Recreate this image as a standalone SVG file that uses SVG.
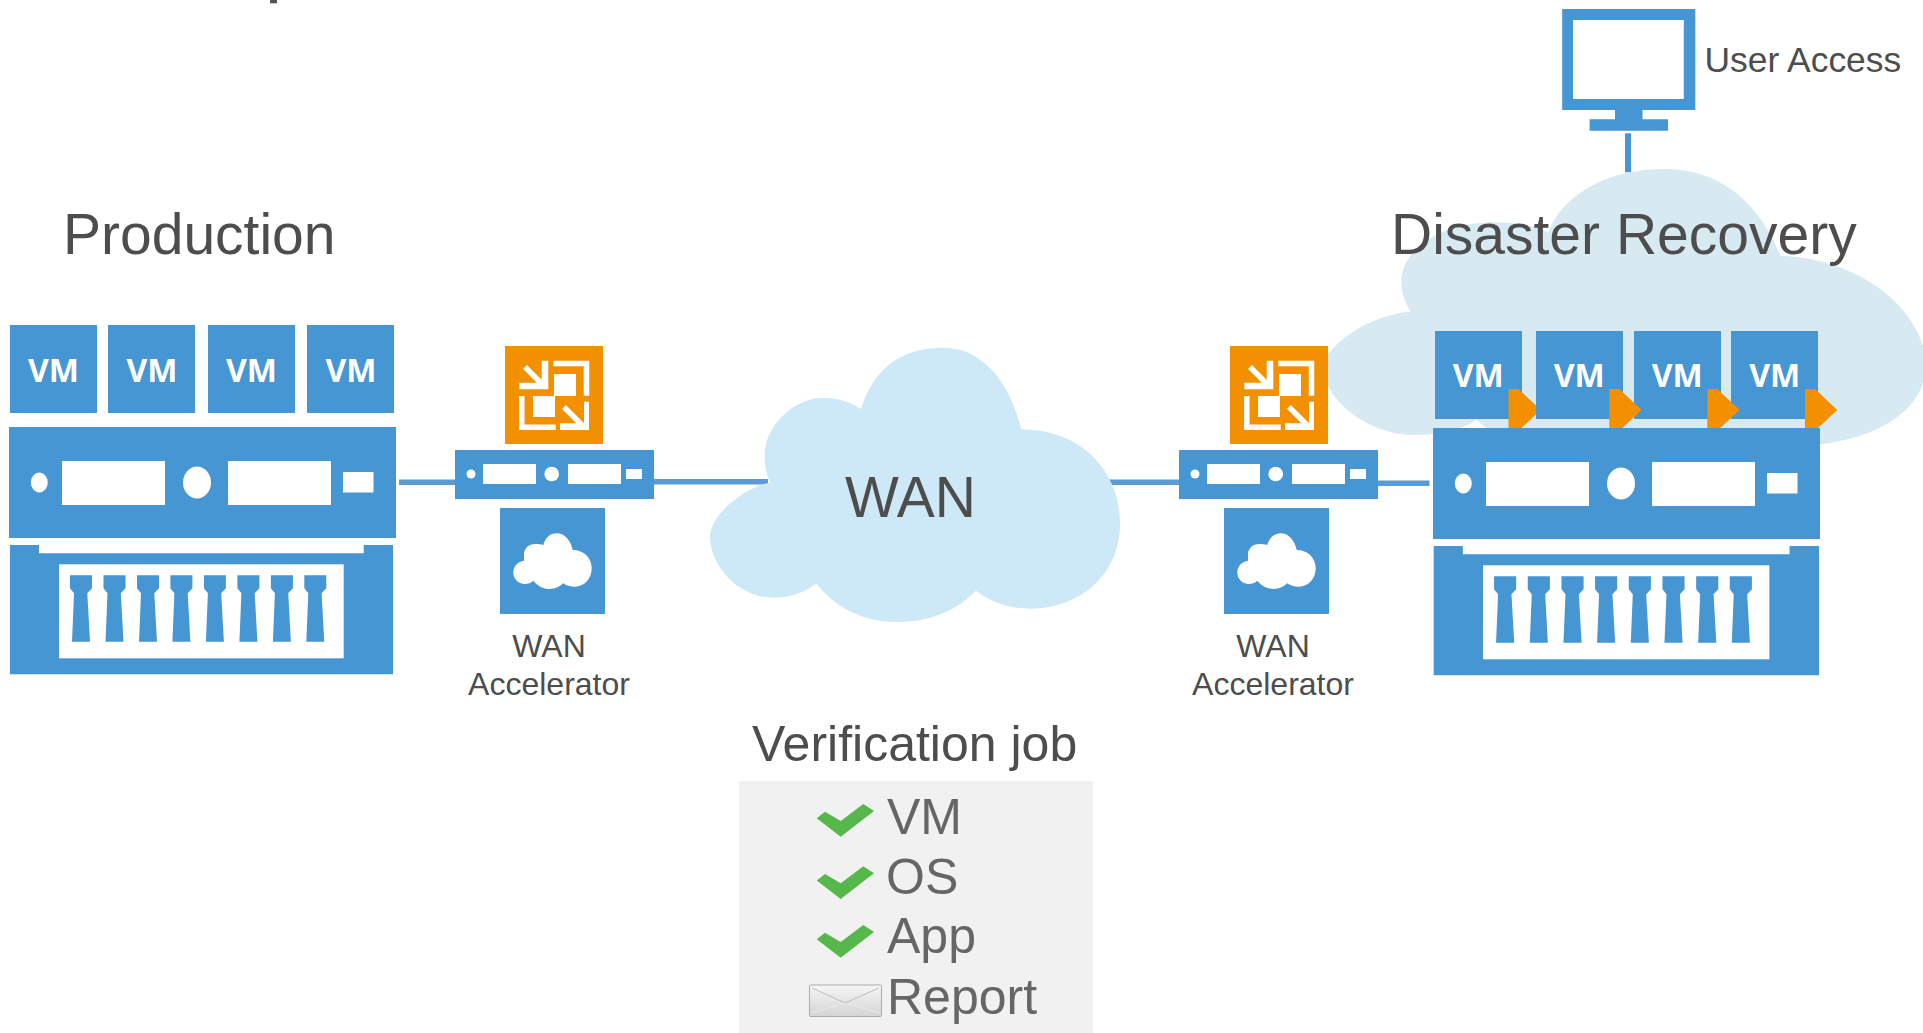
<svg xmlns="http://www.w3.org/2000/svg" xmlns:xlink="http://www.w3.org/1999/xlink" width="1923" height="1033" viewBox="0 0 1923 1033">
<style>
text{font-family:"Liberation Sans",Arial,sans-serif;fill:#4d4d4d}
.b{fill:#4596d2}.w{fill:#fff}.o{fill:#f39000}
.vm{font-family:"Open Sans","Liberation Sans",sans-serif;font-weight:700;font-size:32px;fill:#fff;text-anchor:middle}
.h{font-size:57px}.l{font-size:32px}
.li{font-size:50px;fill:#666}
.c{fill:#5b9bd5}
.ck{fill:#56b84b}
.ws{fill:none;stroke:#fff;stroke-width:5.5}
</style>
<defs>
<linearGradient id="env" x1="0" y1="0" x2="0" y2="1"><stop offset="0" stop-color="#f6f6f6"/><stop offset="1" stop-color="#d4d4d4"/></linearGradient>
<path id="slot" class="b" d="M70 575.3H92V588.3L87.3 593.3L90 641.7H72L74 593.3L70 588.3Z"/>
<g id="srv-top">
<rect class="b" x="9" y="427" width="387" height="111"/>
<ellipse class="w" cx="39.3" cy="482.5" rx="8.5" ry="10"/>
<rect class="w" x="62" y="461" width="103" height="44"/>
<ellipse class="w" cx="197" cy="482.5" rx="14" ry="16"/>
<rect class="w" x="228" y="461" width="103" height="44"/>
<rect class="w" x="343" y="472" width="30.500" height="20.500"/>
</g>
<g id="srv-bot">
<path class="b" d="M10 545H39V553.300H363.700V545H393V674.300H10Z"/>
<rect class="w" x="59" y="564.300" width="284.700" height="94"/>
<use xlink:href="#slot" href="#slot"/>
<use xlink:href="#slot" href="#slot" x="33.500"/>
<use xlink:href="#slot" href="#slot" x="67"/>
<use xlink:href="#slot" href="#slot" x="100.400"/>
<use xlink:href="#slot" href="#slot" x="133.900"/>
<use xlink:href="#slot" href="#slot" x="167.400"/>
<use xlink:href="#slot" href="#slot" x="200.900"/>
<use xlink:href="#slot" href="#slot" x="234.300"/>
</g>
<g id="wao">
<rect class="o" x="505" y="346" width="98" height="98"/>
<rect class="w" x="554" y="374" width="22" height="22"/>
<rect class="w" x="533" y="396" width="22" height="21"/>
<path class="w" d="M541.700 360.700H548.300V389.300H519.300V382.700H541.700Z"/>
<path class="ws" stroke-width="6" d="M525 367L544 386"/>
<path class="ws" d="M553.300 363.500H586.500V395.700"/>
<path class="ws" d="M521.800 396V427.300H555.700"/>
<path class="w" d="M584 401.700H589V430H560V423.300H584Z"/>
<path class="ws" d="M564 407L584 427"/>
</g>
<g id="wab">
<rect class="b" x="455" y="450" width="199" height="49"/>
<circle class="w" cx="471" cy="474" r="4.500"/>
<rect class="w" x="483" y="464" width="53" height="20"/>
<circle class="w" cx="551.700" cy="474" r="7.300"/>
<rect class="w" x="568" y="464" width="53" height="20"/>
<rect class="w" x="626" y="469" width="16" height="10"/>
<rect class="b" x="500" y="508" width="105" height="106"/>
<path class="w" d="M524 560.700C524 557 524 556 524 553.300C525 547 530 544 535 544C538 544 541 544 543.300 545C545 538 550 533.300 556.700 533.300C565 533.300 571 541 572.700 550C584 550 591.700 558 591.700 568.300C591.700 579 584 586.700 575 586.700C570 586.700 566 585.500 563.300 583.300C559 587 555 589 550 589C543 589 537 585.500 533.300 580.700C531 583 528 584 525 584C518 584 513.300 578.500 513.300 572.700C513.300 566 518 561.500 524 560.700Z"/>
</g>
<path id="tick" class="ck" d="M816.700 818.300L825 811.700L840.700 821L863.300 804L874 811L840.700 836.700Z"/>
<polygon id="tri" class="o" points="0,0 10,0 32.300,21 13,39 0,39"/>
</defs>

<g id="connectors">
<rect class="c" x="399" y="479.500" width="56" height="5.500"/>
<rect class="c" x="654" y="479" width="114" height="5.500"/>
<rect class="c" x="1108" y="479.500" width="72" height="5.500"/>
<rect class="c" x="1378" y="480.500" width="51.500" height="5.500"/>
<rect class="b" x="1625" y="133.300" width="6" height="39"/>
</g>

<g id="dr-cloud">
<path fill="#d7e9f1" d="M1410.500 311.700C1404 300 1401.300 292 1401.300 281.700C1401.300 250 1440 222.300 1494.700 222.300C1515 222.300 1533 225 1548 232C1565 192 1610 169 1663.500 169C1715 169 1755 195 1780.700 256C1860 258 1923 310 1926 363C1926 410 1880 438 1815 445L1500 440L1476.800 420C1460 430 1440 435 1413 435C1370 435 1322 400 1322 363C1335 340 1370 315 1410.500 311.700Z"/>
</g>

<g id="wan-cloud">
<path fill="#cde8f7" d="M861 409C873 370 900 347.700 943.300 347.700C985 347.700 1010 385 1021.300 429.300C1080 429.300 1120 470 1120 523.300C1120 575 1080 608.700 1030 608.700C1010 608.700 990 602 976 590.700C955 612 928 622 896.700 622C862 622 835 607 816 583.300C805 593 790 597.700 773.300 597.700C738 597.700 710 565 710 536.700C710 515 745 487 770 482.700C766 473 764.700 465 764.700 455C764.700 425 795 397.700 823.300 397.700C838 397.700 850 402 861 409Z"/>
<text class="h" x="845" y="516.500">WAN</text>
</g>

<g id="clipped-title"><rect x="270" y="0" width="7" height="3.300" fill="#555"/></g>

<g id="production">
<text class="h" x="63" y="254">Production</text>
<g id="prod-vm1"><rect class="b" x="10" y="325" width="87" height="88"/><text class="vm" x="53.500" y="381.700">VM</text></g>
<g id="prod-vm2"><rect class="b" x="108" y="325" width="87" height="88"/><text class="vm" x="152" y="381.700">VM</text></g>
<g id="prod-vm3"><rect class="b" x="208" y="325" width="87" height="88"/><text class="vm" x="251.500" y="381.700">VM</text></g>
<g id="prod-vm4"><rect class="b" x="307" y="325" width="87" height="88"/><text class="vm" x="351" y="381.700">VM</text></g>
<use id="prod-server-top" xlink:href="#srv-top" href="#srv-top"/>
<use id="prod-server-bot" xlink:href="#srv-bot" href="#srv-bot"/>
</g>

<g id="wan-acc-left">
<use xlink:href="#wao" href="#wao"/>
<use xlink:href="#wab" href="#wab"/>
<text class="l" text-anchor="middle" x="549" y="656.500">WAN</text>
<text class="l" text-anchor="middle" x="549" y="695">Accelerator</text>
</g>

<g id="wan-acc-right">
<use xlink:href="#wao" href="#wao" x="725"/>
<use xlink:href="#wab" href="#wab" x="724"/>
<text class="l" text-anchor="middle" x="1273" y="656.500">WAN</text>
<text class="l" text-anchor="middle" x="1273" y="695">Accelerator</text>
</g>

<g id="disaster-recovery">
<text class="h" x="1391" y="254">Disaster Recovery</text>
<g id="dr-vm1"><rect class="b" x="1435" y="331" width="87" height="88"/><text class="vm" x="1478.200" y="387.300">VM</text></g>
<use xlink:href="#tri" href="#tri" x="1508.500" y="389"/>
<g id="dr-vm2"><rect class="b" x="1536" y="331" width="87" height="88"/><text class="vm" x="1579.200" y="387.300">VM</text></g>
<g id="dr-vm3"><rect class="b" x="1634" y="331" width="87" height="88"/><text class="vm" x="1677.200" y="387.300">VM</text></g>
<g id="dr-vm4"><rect class="b" x="1731" y="331" width="87" height="88"/><text class="vm" x="1774.700" y="387.300">VM</text></g>
<use xlink:href="#tri" href="#tri" x="1609.300" y="389"/>
<use xlink:href="#tri" href="#tri" x="1707.300" y="389"/>
<use xlink:href="#tri" href="#tri" x="1805" y="389"/>
<use id="dr-server-top" xlink:href="#srv-top" href="#srv-top" x="1424" y="1"/>
<use id="dr-server-bot" xlink:href="#srv-bot" href="#srv-bot" transform="translate(1423.640 1) scale(1.006 1)"/>
</g>

<g id="user-access">
<path class="b" fill-rule="evenodd" d="M1562.200 9H1695.300V110H1642.500V119.300H1668V130.700H1589.600V119.300H1615V110H1562.200ZM1573 20V99H1683.800V20Z"/>
<text x="1704.500" y="72" font-size="35.400">User Access</text>
</g>

<g id="verification">
<text x="752" y="760.500" font-size="50">Verification job</text>
<rect fill="#f1f1f1" x="739" y="781" width="354" height="252"/>
<use xlink:href="#tick" href="#tick"/>
<text class="li" x="887" y="834.300">VM</text>
<use xlink:href="#tick" href="#tick" y="62.300"/>
<text class="li" x="886" y="893.500">OS</text>
<use xlink:href="#tick" href="#tick" y="121"/>
<text class="li" x="887" y="953.300">App</text>
<rect x="809.500" y="985" width="72" height="31.500" rx="1" fill="url(#env)" stroke="#a9a9b4" stroke-width="1"/>
<path fill="none" stroke="#bdbdbd" stroke-width="1" d="M812 988L845 1003L879 988"/>
<path fill="none" stroke="#e9e9e9" stroke-width="1" d="M812 1013L845 1003L879 1013"/>
<text class="li" x="887" y="1014.300">Report</text>
</g>
</svg>
